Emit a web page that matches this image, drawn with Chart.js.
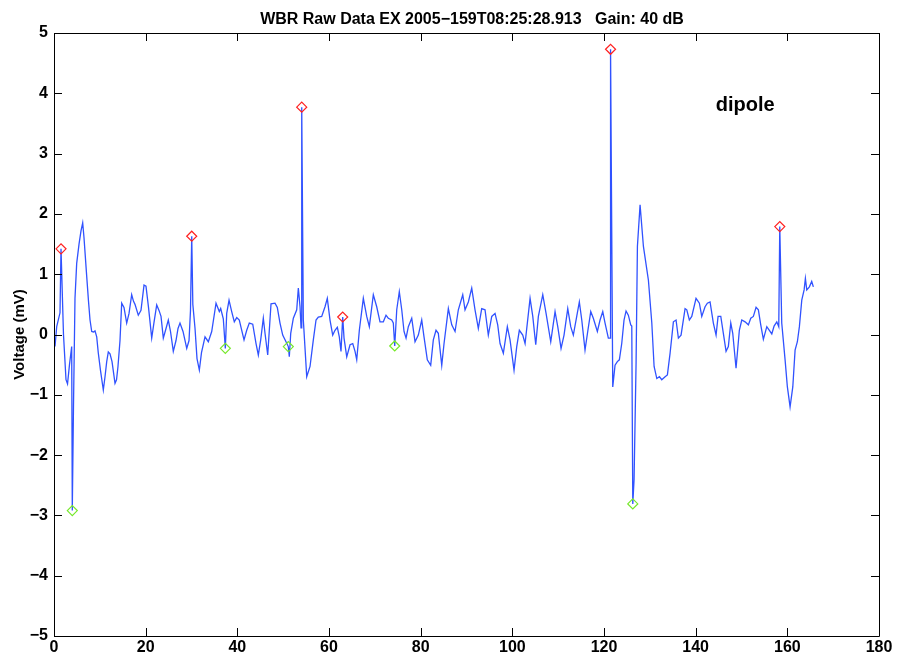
<!DOCTYPE html>
<html>
<head>
<meta charset="utf-8">
<script src="https://cdn.jsdelivr.net/npm/chart.js@4/dist/chart.umd.min.js"></script>
<style>
  html, body { margin: 0; padding: 0; background: #fff; }
  #wrap { width: 898px; height: 655px; position: relative; }
</style>
</head>
<body>
<div id="wrap"><canvas id="c" width="898" height="655"></canvas></div>
<script>
// WBR waveform: time (ms) and voltage (mV)
const titleText = 'WBR Raw Data EX 2005\u2212159T08:25:28.913   Gain: 40 dB';
const yAxisLabel = 'Voltage (mV)';
const antennaLabel = 'dipole';

const time = [
  0.22, 0.59, 1.31, 1.53, 2.07, 2.62, 2.95, 3.38, 3.86, 3.99, 4.25, 4.58, 4.95, 5.46, 5.89, 6.26,
  6.55, 7.14, 7.53, 7.86, 8.23, 8.62, 8.95, 9.32, 9.67, 10.15, 10.76, 11.13, 11.50, 11.85, 12.22, 12.66,
  13.31, 13.64, 13.96, 14.40, 14.77, 15.27, 15.86, 16.37, 16.95, 17.35, 17.67, 18.39, 18.98, 19.64, 20.07, 20.62,
  21.32, 21.82, 22.41, 22.91, 23.35, 23.85, 24.44, 24.94, 25.42, 26.03, 26.62, 27.06, 27.49, 28.15, 28.96, 29.46,
  29.78, 30.05, 30.29, 30.77, 31.20, 31.71, 32.18, 32.95, 33.67, 34.41, 35.35, 36.07, 36.37, 36.94, 37.38, 37.68,
  38.19, 38.77, 39.34, 39.87, 40.43, 40.96, 41.46, 42.05, 42.61, 43.36, 44.08, 44.58, 45.10, 45.67, 46.04, 46.63,
  47.35, 48.22, 48.72, 49.31, 49.90, 50.62, 51.12, 51.34, 51.65, 52.22, 52.96, 53.31, 53.68, 53.90, 54.05, 54.40,
  55.14, 55.86, 56.58, 57.17, 57.67, 58.41, 59.13, 59.63, 60.22, 60.81, 61.31, 61.82, 62.25, 62.62, 62.99, 63.28,
  63.87, 64.59, 65.18, 65.68, 66.05, 66.62, 67.49, 68.23, 68.80, 69.67, 70.41, 71.13, 71.85, 72.44, 72.94, 73.68,
  74.03, 74.34, 74.78, 75.34, 75.87, 76.37, 76.81, 77.31, 78.05, 78.77, 79.49, 80.23, 80.73, 81.45, 82.19, 82.76,
  83.35, 83.85, 84.60, 85.10, 86.04, 86.78, 87.50, 88.22, 89.18, 89.68, 90.40, 91.14, 91.86, 92.58, 93.32, 94.04,
  94.76, 95.51, 96.23, 96.81, 97.32, 98.04, 98.91, 99.50, 100.37, 100.96, 101.53, 102.27, 102.78, 103.87, 104.46, 105.11,
  105.68, 106.64, 107.36, 108.38, 109.32, 109.91, 110.63, 111.28, 112.09, 112.74, 113.31, 114.05, 114.62, 115.15, 115.86, 116.45,
  117.11, 117.67, 118.55, 119.14, 119.73, 120.23, 120.95, 121.32, 121.43, 121.91, 122.41, 122.91, 123.35, 123.87, 124.37, 124.81,
  125.31, 125.84, 126.06, 126.28, 126.56, 127.00, 127.29, 127.87, 128.60, 129.69, 130.43, 130.93, 131.52, 132.09, 132.60, 133.33,
  133.83, 134.42, 135.14, 135.72, 136.23, 136.81, 137.69, 138.06, 138.62, 139.15, 140.08, 140.81, 141.33, 142.05, 142.55, 143.14,
  143.86, 144.45, 144.89, 145.48, 146.04, 146.63, 147.13, 147.66, 148.09, 148.81, 149.53, 150.06, 150.78, 151.50, 152.02, 152.59,
  153.18, 153.68, 154.20, 154.77, 155.52, 156.08, 156.61, 157.11, 157.70, 158.13, 158.35, 158.78, 159.51, 160.01, 160.60, 161.19,
  161.69, 162.19, 162.63, 163.15, 163.66, 163.94, 164.24, 164.81, 165.32, 165.68
];

const voltage = [
  -0.20, 0.13, 0.36, 1.42, 0.00, -0.75, -0.82, -0.50, -0.20, -2.92, -1.20, 0.60, 1.18, 1.50, 1.72, 1.85,
  1.60, 0.96, 0.55, 0.24, 0.05, 0.04, 0.06, -0.04, -0.31, -0.60, -0.92, -0.70, -0.45, -0.29, -0.32, -0.45,
  -0.81, -0.75, -0.53, -0.10, 0.52, 0.45, 0.19, 0.35, 0.66, 0.55, 0.50, 0.32, 0.40, 0.82, 0.80, 0.45,
  -0.06, 0.20, 0.49, 0.40, 0.30, -0.06, 0.10, 0.24, 0.05, -0.28, -0.10, 0.10, 0.19, 0.05, -0.23, -0.10,
  0.40, 1.63, 0.50, 0.10, -0.40, -0.59, -0.30, -0.04, -0.12, 0.05, 0.52, 0.38, 0.43, 0.26, -0.23, 0.35,
  0.57, 0.38, 0.21, 0.28, 0.24, 0.07, -0.09, 0.07, 0.19, 0.17, -0.15, -0.34, -0.09, 0.27, 0.02, -0.34,
  0.51, 0.52, 0.45, 0.19, -0.01, -0.12, -0.20, -0.37, 0.02, 0.27, 0.41, 0.77, 0.46, 0.11, 3.77, 0.24,
  -0.70, -0.53, -0.09, 0.24, 0.29, 0.30, 0.46, 0.60, 0.24, -0.01, 0.07, 0.12, -0.04, -0.28, 0.29, -0.06,
  -0.37, -0.17, -0.15, -0.28, -0.42, 0.07, 0.60, 0.30, 0.13, 0.66, 0.46, 0.21, 0.21, 0.32, 0.27, 0.24,
  0.19, -0.19, 0.41, 0.71, 0.41, 0.05, -0.06, 0.13, 0.27, -0.12, -0.01, 0.24, -0.04, -0.42, -0.51, -0.09,
  0.07, 0.02, -0.51, -0.15, 0.43, 0.16, 0.05, 0.41, 0.66, 0.41, 0.54, 0.77, 0.41, 0.10, 0.43, 0.41,
  -0.01, 0.30, 0.35, 0.16, -0.15, -0.31, 0.13, -0.09, -0.59, -0.20, 0.07, -0.01, -0.15, 0.60, 0.30, -0.17,
  0.30, 0.66, 0.35, -0.12, 0.38, 0.13, -0.23, -0.01, 0.43, 0.13, -0.01, 0.30, 0.54, 0.24, -0.26, 0.05,
  0.38, 0.27, 0.05, 0.24, 0.38, 0.19, -0.06, -0.06, 4.73, -0.87, -0.51, -0.45, -0.42, -0.15, 0.24, 0.39,
  0.32, 0.16, 0.14, -2.81, -2.41, -0.47, 1.46, 2.15, 1.46, 0.90, 0.19, -0.53, -0.73, -0.70, -0.75, -0.70,
  -0.67, -0.31, 0.21, 0.24, -0.06, -0.01, 0.43, 0.41, 0.24, 0.30, 0.60, 0.52, 0.30, 0.46, 0.52, 0.54,
  0.19, -0.01, 0.30, 0.30, 0.02, -0.28, -0.20, 0.19, 0.02, -0.56, 0.07, 0.24, 0.21, 0.16, 0.27, 0.30,
  0.45, 0.41, 0.16, -0.08, 0.13, 0.07, 0.01, 0.14, 0.21, 0.13, 1.79, 0.19, -0.42, -0.87, -1.20, -0.87,
  -0.26, -0.12, 0.13, 0.57, 0.74, 0.93, 0.74, 0.79, 0.88, 0.79
];

// Detected local maxima (red) and minima (green)
const peakTime = [1.53, 30.05, 54.05, 62.99, 121.43, 158.35];
const peakVolt = [1.42, 1.63, 3.77, 0.29, 4.73, 1.79];
const troughTime = [3.99, 37.38, 51.12, 74.34, 126.28];
const troughVolt = [-2.92, -0.23, -0.20, -0.19, -2.81];

const toPoints = (xs, ys) => xs.map((x, i) => ({ x: x, y: ys[i] }));
const minusFmt = v => (v < 0 ? '\u2212' + Math.abs(v) : String(v));

const TICK_FONT = { family: '"Liberation Sans", Arial, sans-serif', size: 16, weight: 'bold' };

// Boxed axes with inward tick marks on all four sides, plus title and annotations
const frame = {
  id: 'frame',
  afterDraw(chart) {
    const { ctx, chartArea: a, scales } = chart;
    const xs = scales.x, ys = scales.y;
    const len = 8;
    ctx.save();
    ctx.strokeStyle = '#000';
    ctx.lineWidth = 1;
    ctx.beginPath();
    ctx.rect(Math.round(a.left) + 0.5, Math.round(a.top) + 0.5,
             Math.round(a.right - a.left), Math.round(a.bottom - a.top));
    xs.ticks.forEach(t => {
      const px = Math.round(xs.getPixelForValue(t.value)) + 0.5;
      ctx.moveTo(px, a.bottom); ctx.lineTo(px, a.bottom - len);
      ctx.moveTo(px, a.top); ctx.lineTo(px, a.top + len);
    });
    ys.ticks.forEach(t => {
      const py = Math.round(ys.getPixelForValue(t.value)) + 0.5;
      ctx.moveTo(a.left, py); ctx.lineTo(a.left + len, py);
      ctx.moveTo(a.right, py); ctx.lineTo(a.right - len, py);
    });
    ctx.stroke();

    ctx.fillStyle = '#000';
    ctx.font = 'bold 16px "Liberation Sans", Arial, sans-serif';
    ctx.textAlign = 'center';
    ctx.textBaseline = 'alphabetic';
    ctx.fillText(titleText, 472, 24);

    ctx.font = 'bold 20px "Liberation Sans", Arial, sans-serif';
    ctx.fillText(antennaLabel, xs.getPixelForValue(150.8), ys.getPixelForValue(3.7));

    ctx.translate(20, (a.top + a.bottom) / 2);
    ctx.rotate(-Math.PI / 2);
    ctx.font = 'bold 15px "Liberation Sans Narrow", "Liberation Sans", Arial, sans-serif';
    ctx.textBaseline = 'middle';
    ctx.fillText(yAxisLabel, 0, 0);
    ctx.restore();
  }
};

new Chart(document.getElementById('c'), {
  type: 'scatter',
  data: {
    datasets: [
      {
        label: 'peaks',
        data: toPoints(peakTime, peakVolt),
        pointStyle: 'rectRot',
        pointRadius: 5,
        borderColor: '#ff2020',
        backgroundColor: 'rgba(0,0,0,0)',
        borderWidth: 1.2,
        order: 0
      },
      {
        label: 'troughs',
        data: toPoints(troughTime, troughVolt),
        pointStyle: 'rectRot',
        pointRadius: 5,
        borderColor: '#76e82a',
        backgroundColor: 'rgba(0,0,0,0)',
        borderWidth: 1.2,
        order: 1
      },
      {
        label: 'voltage',
        data: toPoints(time, voltage),
        showLine: true,
        pointRadius: 0,
        borderColor: '#3052ff',
        borderWidth: 1.3,
        tension: 0,
        order: 2
      }
    ]
  },
  options: {
    responsive: false,
    animation: false,
    devicePixelRatio: 1,
    layout: { padding: { top: 33, right: 19, left: 0, bottom: 0 } },
    plugins: { legend: { display: false }, tooltip: { enabled: false }, title: { display: false } },
    scales: {
      x: {
        type: 'linear', min: 0, max: 180,
        grid: { display: false, drawTicks: false },
        border: { display: false },
        ticks: { stepSize: 20, color: '#000', font: TICK_FONT, padding: 2, maxRotation: 0, callback: minusFmt },
        afterFit(s) { s.height = 19; }
      },
      y: {
        type: 'linear', min: -5, max: 5,
        grid: { display: false, drawTicks: false },
        border: { display: false },
        ticks: { stepSize: 1, color: '#000', font: TICK_FONT, padding: 6, callback: minusFmt },
        afterFit(s) { s.width = 54; }
      }
    }
  },
  plugins: [frame]
});
</script>
</body>
</html>
